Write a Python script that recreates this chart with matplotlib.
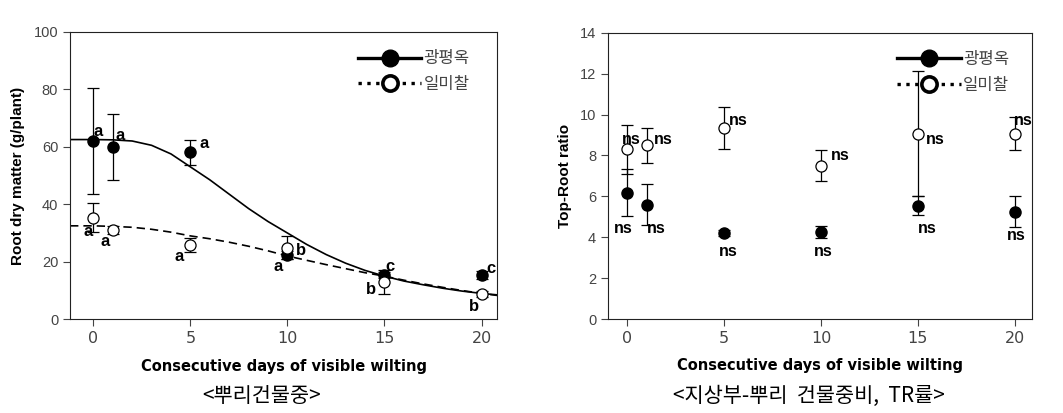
import numpy as np
import matplotlib.pyplot as plt
from matplotlib.lines import Line2D

plt.rcParams['font.family'] = ['Liberation Sans', 'Noto Sans CJK KR']

# ---- data: root dry matter ----
days = [0, 1, 5, 10, 15, 20]
root_kp = [62.0, 60.0, 58.0, 22.4, 15.4, 15.4]
root_kp_err = [18.6, 11.4, 4.2, 1.5, 1.0, 1.5]
root_im = [35.3, 31.0, 25.8, 24.8, 13.0, 8.7]
root_im_err = [5.0, 1.5, 2.3, 4.0, 4.2, 1.0]

# fitted curves
fit_x = [-1.2, 0, 1, 2, 3, 4, 5, 6, 7, 8, 9, 10, 11, 12, 13, 14, 15, 16, 17, 18, 19, 20, 20.8]
fit_kp = [62.5, 62.5, 62.4, 62.0, 60.5, 57.5, 53.0, 48.5, 43.5, 38.5, 34.0, 30.0, 26.0,
          22.5, 19.5, 17.0, 15.0, 13.3, 12.0, 10.8, 9.8, 9.0, 8.5]
fit_im = [32.5, 32.5, 32.3, 32.0, 31.3, 30.3, 29.0, 28.0, 26.8, 25.4, 23.8, 22.0, 20.5,
          19.0, 17.6, 16.2, 15.0, 13.6, 12.3, 11.1, 10.0, 9.0, 8.3]

root_letters = [(0.26, 65.2, 'a'), (1.4, 64.0, 'a'), (5.7, 61.3, 'a'),
                (-0.26, 30.5, 'a'), (0.6, 27.0, 'a'), (4.4, 21.7, 'a'),
                (9.5, 18.3, 'a'), (10.7, 24.0, 'b'), (15.3, 18.3, 'c'),
                (14.3, 10.5, 'b'), (20.5, 17.5, 'c'), (19.6, 4.6, 'b')]

# ---- data: top-root ratio ----
tr_kp = [6.18, 5.58, 4.2, 4.25, 5.55, 5.25]
tr_kp_err = [1.15, 1.0, 0.15, 0.3, 0.45, 0.75]
tr_im = [8.3, 8.5, 9.33, 7.5, 9.07, 9.07]
tr_im_err = [1.2, 0.85, 1.03, 0.75, 3.05, 0.8]

tr_letters = [(0.2, 8.8), (1.85, 8.8), (5.7, 9.7), (11.0, 8.0), (15.9, 8.8), (20.45, 9.7),
              (-0.23, 4.43), (1.47, 4.43), (5.2, 3.3), (10.1, 3.3), (15.5, 4.43), (20.1, 4.06)]

names = ['광평옥', '일미찰']

fig = plt.figure(figsize=(10.63, 4.13), dpi=100)
ax1 = fig.add_axes([0.0659, 0.2269, 0.4017, 0.6963])
ax2 = fig.add_axes([0.572, 0.2276, 0.3989, 0.6932])

eb = dict(ecolor='black', elinewidth=0.9, capsize=4, capthick=0.9, linestyle='none', zorder=3)

# left panel
ax1.plot(fit_x, fit_kp, color='black', lw=1.2, zorder=2)
ax1.plot(fit_x, fit_im, color='black', lw=1.2, ls=(0, (5, 3)), zorder=2)
ax1.errorbar(days, root_kp, yerr=root_kp_err, fmt='o', mfc='black', mec='black', ms=8, **eb)
ax1.errorbar(days, root_im, yerr=root_im_err, fmt='o', mfc='white', mec='black', ms=8, mew=0.9, **eb)
for x, y, t in root_letters:
    ax1.text(x, y, t, ha='center', va='center', fontsize=12, fontweight='bold')
ax1.set_xlim(-1.2, 20.8)
ax1.set_ylim(0, 100)
ax1.set_yticks([0, 20, 40, 60, 80, 100])
ax1.set_ylabel('Root dry matter (g/plant)', fontsize=11, fontweight='bold', labelpad=6)

# right panel
ax2.errorbar(days, tr_kp, yerr=tr_kp_err, fmt='o', mfc='black', mec='black', ms=8, **eb)
ax2.errorbar(days, tr_im, yerr=tr_im_err, fmt='o', mfc='white', mec='black', ms=8, mew=0.9, **eb)
for x, y in tr_letters:
    ax2.text(x, y, 'ns', ha='center', va='center', fontsize=11.5, fontweight='bold')
ax2.set_xlim(-1.0, 20.9)
ax2.set_ylim(0, 14)
ax2.set_yticks(range(0, 15, 2))
ax2.set_ylabel('Top-Root ratio', fontsize=11, fontweight='bold', labelpad=6)

handles = [Line2D([], [], color='black', lw=2.4, marker='o', ms=12, mfc='black'),
           Line2D([], [], color='black', lw=2.4, ls=':', marker='o', ms=11, mfc='white', mew=2.6)]

for ax, lx in ((ax1, 0.674), (ax2, 0.682)):
    ax.set_xticks([0, 5, 10, 15, 20])
    ax.set_xlabel('Consecutive days of visible wilting', fontsize=10.5, fontweight='bold',
                  family='Liberation Sans Narrow', labelpad=9)
    ax.tick_params(direction='out', length=5, width=0.8, labelsize=10.5, colors='#444444',
                   top=False, right=False)
    for lab in ax.get_xticklabels():
        lab.set_family('Liberation Sans Narrow')
        lab.set_fontsize(11.5)
    for sp in ax.spines.values():
        sp.set_linewidth(0.8)
        sp.set_color('#222222')
    leg = ax.legend(handles, names, loc='upper left', frameon=False,
                    handlelength=3.8, handletextpad=0.15, labelspacing=0.5,
                    borderaxespad=0, borderpad=0,
                    bbox_to_anchor=(lx, 0.935), prop={'family': 'Noto Sans CJK KR', 'size': 12})
    for t in leg.get_texts():
        t.set_color('#444444')

fig.text(0.2465, 0.041, '<뿌리건물중>', ha='center', va='center', fontsize=15,
         family='Noto Sans CJK KR')
fig.text(0.7605, 0.041, '<지상부-뿌리  건물중비,  TR률>', ha='center', va='center', fontsize=15,
         family='Noto Sans CJK KR')

fig.savefig('out.png', dpi=100)
